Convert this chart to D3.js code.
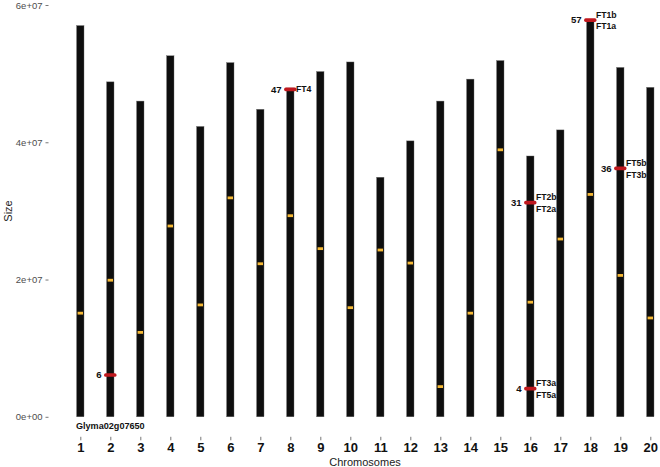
<!DOCTYPE html>
<html>
<head>
<meta charset="utf-8">
<script src="https://cdn.jsdelivr.net/npm/d3@7"></script>
<style>
  body { margin: 0; background: #fff; }
  svg { display: block; font-family: "Liberation Sans", Arial, Helvetica, sans-serif; }
</style>
</head>
<body>
<div id="chart"></div>
<script>
// chromosome names and lengths (bp)
var chromosomes = ["1","2","3","4","5","6","7","8","9","10","11","12","13","14","15","16","17","18","19","20"];
var sizes = [5.70e7, 4.88e7, 4.60e7, 5.26e7, 4.23e7, 5.16e7, 4.48e7, 4.79e7, 5.03e7, 5.17e7,
             3.49e7, 4.02e7, 4.60e7, 4.92e7, 5.19e7, 3.80e7, 4.18e7, 5.78e7, 5.09e7, 4.80e7];
// yellow marks (centromere positions)
var centromeres = [1.51e7, 1.99e7, 1.23e7, 2.78e7, 1.63e7, 3.19e7, 2.23e7, 2.93e7, 2.45e7, 1.59e7,
                   2.43e7, 2.24e7, 0.44e7, 1.51e7, 3.89e7, 1.67e7, 2.59e7, 3.24e7, 2.06e7, 1.44e7];
// red marks: gene loci
var geneChr   = ["2", "8", "16", "16", "18", "19"];
var genePos   = [0.61e7, 4.77e7, 3.12e7, 0.41e7, 5.78e7, 3.62e7];
var geneMb    = ["6", "47", "31", "4", "57", "36"];
var geneNames = [[], ["FT4"], ["FT2b", "FT2a"], ["FT3a", "FT5a"], ["FT1b", "FT1a"], ["FT5b", "FT3b"]];
var belowLabel = { chr: "2", text: "Glyma02g07650" };
var yTicks = [0, 2e7, 4e7, 6e7];

var svgWidth = 660, svgHeight = 467;

var svg = d3.select("#chart").append("svg")
  .attr("width", svgWidth)
  .attr("height", svgHeight);

var xScale = d3.scalePoint()
  .domain(chromosomes)
  .range([80.3, 650.3]);

var yScale = d3.scaleLinear()
  .domain([0, 6e7])
  .range([416.8, 5]);

var barW = 7.4;

// y axis (ticks only, ggplot style)
var yAxis = d3.axisLeft(yScale)
  .tickValues(yTicks)
  .tickSize(3)
  .tickPadding(3)
  .tickFormat(function(d) {
    return d3.format(".0e")(d).replace(/e([+-])(\d)$/, "e$10$2");
  });

var yG = svg.append("g")
  .attr("transform", "translate(48.5,0)")
  .call(yAxis);
yG.select(".domain").remove();
yG.selectAll(".tick line").attr("stroke", "#555").attr("stroke-width", 0.8);
yG.selectAll(".tick text")
  .attr("fill", "#4d4d4d")
  .style("font-size", "9.5px")
  .style("font-family", "\"Liberation Sans\", Arial, sans-serif");

// x axis
var xAxis = d3.axisBottom(xScale)
  .tickSize(3.5)
  .tickPadding(2);

var xG = svg.append("g")
  .attr("transform", "translate(0,436.8)")
  .call(xAxis);
xG.select(".domain").remove();
xG.selectAll(".tick line").attr("stroke", "#555").attr("stroke-width", 0.8);
xG.selectAll(".tick text")
  .attr("fill", "#111")
  .style("font-size", "13px")
  .style("font-weight", "bold")
  .style("font-family", "\"Liberation Sans\", Arial, sans-serif");

// axis titles
svg.append("text")
  .attr("x", 365)
  .attr("y", 466)
  .attr("text-anchor", "middle")
  .attr("fill", "#222")
  .style("font-size", "11px")
  .text("Chromosomes");

svg.append("text")
  .attr("transform", "translate(12,211) rotate(-90)")
  .attr("text-anchor", "middle")
  .attr("fill", "#222")
  .style("font-size", "11px")
  .text("Size");

// chromosome bars
svg.append("g").selectAll("rect")
  .data(chromosomes)
  .enter()
  .append("rect")
  .attr("x", function(d) { return xScale(d) - barW / 2; })
  .attr("y", function(d, i) { return yScale(sizes[i]); })
  .attr("width", barW)
  .attr("height", function(d, i) { return yScale(0) - yScale(sizes[i]); })
  .attr("fill", "#0e0e0e")
  .attr("stroke", "#6a6a6a")
  .attr("stroke-width", 0.4);

// centromeres
svg.append("g").selectAll("rect")
  .data(chromosomes)
  .enter()
  .append("rect")
  .attr("x", function(d) { return xScale(d) - 2.7; })
  .attr("y", function(d, i) { return yScale(centromeres[i]) - 1.4; })
  .attr("width", 5.4)
  .attr("height", 2.8)
  .attr("fill", "#f6b935");

// gene markers
var genes = geneChr.map(function(c, i) {
  return { chr: c, pos: genePos[i], mb: geneMb[i], names: geneNames[i] };
});

var gG = svg.append("g");
gG.selectAll("rect")
  .data(genes)
  .enter()
  .append("rect")
  .attr("x", function(d) { return xScale(d.chr) - 6.2; })
  .attr("y", function(d) { return yScale(d.pos) - 1.8; })
  .attr("width", 12.4)
  .attr("height", 3.6)
  .attr("rx", 1.6)
  .attr("fill", "#c0181e");

gG.selectAll("text.mb")
  .data(genes)
  .enter()
  .append("text")
  .attr("class", "mb")
  .attr("x", function(d) { return xScale(d.chr) - 8.6; })
  .attr("y", function(d) { return yScale(d.pos); })
  .attr("dy", "0.35em")
  .attr("text-anchor", "end")
  .attr("fill", "#111")
  .style("font-size", "9.6px")
  .style("font-weight", "bold")
  .text(function(d) { return d.mb; });

genes.forEach(function(d) {
  var offs = d.names.length === 1 ? [0] : [-5.3, 6.2];
  d.names.forEach(function(n, k) {
    gG.append("text")
      .attr("x", xScale(d.chr) + 5.6)
      .attr("y", yScale(d.pos) + offs[k])
      .attr("dy", "0.35em")
      .attr("fill", "#111")
      .style("font-size", "8.7px")
      .style("font-weight", "bold")
      .text(n);
  });
});

svg.append("text")
  .attr("x", xScale(belowLabel.chr))
  .attr("y", yScale(0) + 8.6)
  .attr("dy", "0.35em")
  .attr("text-anchor", "middle")
  .attr("fill", "#111")
  .style("font-size", "9.1px")
  .style("font-weight", "bold")
  .text(belowLabel.text);
</script>
</body>
</html>
